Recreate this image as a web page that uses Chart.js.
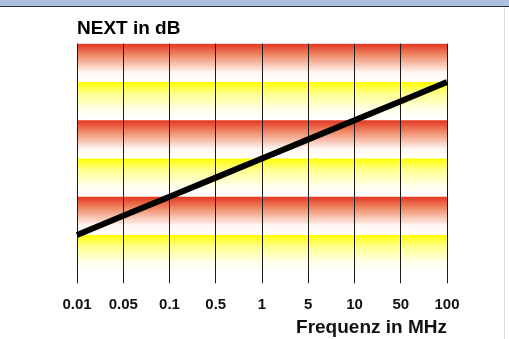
<!DOCTYPE html>
<html>
<head>
<meta charset="utf-8">
<script src="https://cdn.jsdelivr.net/npm/chart.js@4"></script>
<style>
  html, body { margin: 0; padding: 0; background: #fff; }
  #wrap { position: relative; width: 509px; height: 339px; overflow: hidden; }
  #topbar { position: absolute; left: 0; top: 0; width: 509px; height: 6px; background: #abc1e1; border-bottom: 1px solid #2c3442; }
  #edge { position: absolute; left: 504px; top: 7px; width: 1px; height: 332px; background: #dcdcdc; }
  canvas { position: absolute; left: 0; top: 0; }
</style>
</head>
<body>
<div id="wrap">
  <canvas id="next-chart" width="509" height="339"></canvas>
  <div id="topbar"></div>
  <div id="edge"></div>
</div>
<script>
// data //
//////////
var freqLabels = ["0.01", "0.05", "0.1", "0.5", "1", "5", "10", "50", "100"]
var nextDb = [10, 15, 20, 25, 30, 35, 40, 45, 50]

// band edges (dB), top to bottom, alternating red / yellow
var bandEdges = [60, 50, 40, 30, 20, 10, 0]
var bandKinds = ["red", "yellow", "red", "yellow", "red", "yellow"]

var bandStops = {
    red: [[0, "#e2351f"], [0.3, "#f08a68"], [0.75, "#fff6f2"], [1, "#ffffff"]],
    yellow: [[0, "#ffff00"], [0.3, "#ffff8c"], [0.75, "#fffff0"], [1, "#ffffff"]]
}

var bandPlugin = {
    id: "bands",
    beforeDatasetsDraw: function(chart) {
        var ctx = chart.ctx
        var area = chart.chartArea
        var y = chart.scales.y
        ctx.save()
        for (var i = 0; i < bandKinds.length; i++) {
            var top = y.getPixelForValue(bandEdges[i])
            var bottom = y.getPixelForValue(bandEdges[i + 1])
            var grad = ctx.createLinearGradient(0, top, 0, bottom)
            bandStops[bandKinds[i]].forEach(function(s) {
                grad.addColorStop(s[0], s[1])
            })
            ctx.fillStyle = grad
            ctx.fillRect(area.left, top, area.right - area.left, bottom - top)
        }
        ctx.restore()
        // redraw vertical grid over the bands
        chart.scales.x.drawGrid(area)
    }
}

var data = {
    labels: freqLabels,
    datasets: [
        {
            label: "NEXT",
            data: nextDb,
            borderColor: "#000000",
            backgroundColor: "#000000",
            borderWidth: 6,
            pointRadius: 0,
            tension: 0
        }
    ]
}

var config = {
    type: "line",
    data: data,
    options: {
        responsive: false,
        animation: false,
        layout: {
            padding: { left: 77, right: 62, top: 17, bottom: 0 }
        },
        plugins: {
            legend: { display: false },
            tooltip: { enabled: false },
            title: {
                display: true,
                text: "NEXT in dB",
                align: "start",
                color: "#000",
                padding: { top: 0, bottom: 4 },
                font: { family: "Liberation Sans, Arial, sans-serif", size: 19, weight: "bold" }
            }
        },
        scales: {
            x: {
                type: "category",
                offset: false,
                border: { display: false },
                grid: {
                    color: "#1a1a1a",
                    lineWidth: 1,
                    drawTicks: true,
                    tickLength: 10
                },
                ticks: {
                    color: "#111",
                    padding: 13,
                    maxRotation: 0,
                    autoSkip: false,
                    font: { family: "Liberation Sans, Arial, sans-serif", size: 15, weight: "bold" }
                },
                title: {
                    display: true,
                    text: "Frequenz in MHz",
                    align: "end",
                    color: "#111",
                    padding: { top: -11, bottom: 0 },
                    font: { family: "Liberation Sans, Arial, sans-serif", size: 19, weight: "bold" }
                }
            },
            y: {
                display: false,
                min: 0,
                max: 60
            }
        }
    },
    plugins: [bandPlugin]
}

var chart = new Chart(document.getElementById("next-chart"), config)
</script>
</body>
</html>
